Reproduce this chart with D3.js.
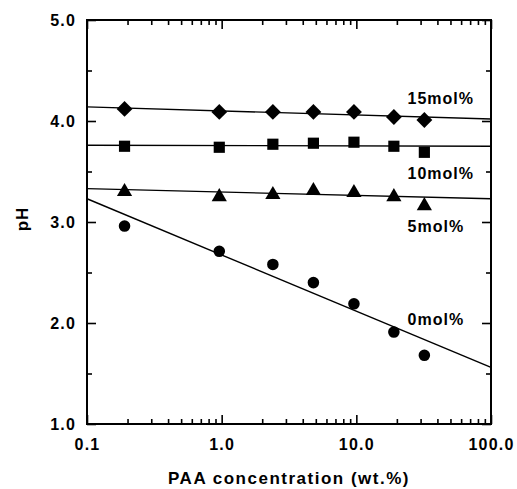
<!DOCTYPE html>
<html>
<head>
<meta charset="utf-8">
<script src="https://cdn.jsdelivr.net/npm/d3@7"></script>
<style>
  body { margin: 0; background: #fff; }
  text { font-family: "Liberation Sans", Arial, sans-serif; font-weight: bold; }
</style>
</head>
<body>
<script>
// data
var conc = [0.19, 0.96, 2.4, 4.8, 9.6, 19, 32]; // PAA wt.%
var ph15 = [4.12, 4.09, 4.09, 4.09, 4.09, 4.04, 4.01];
var ph10 = [3.75, 3.74, 3.77, 3.78, 3.79, 3.75, 3.69];
var ph5  = [3.31, 3.26, 3.28, 3.32, 3.30, 3.26, 3.17];
var ph0  = [2.96, 2.71, 2.58, 2.40, 2.19, 1.91, 1.68];

// fitted lines: pH at x = 0.1 and x = 100
var fitEnds = [0.1, 100];
var fit15 = [4.14, 4.02];
var fit10 = [3.76, 3.75];
var fit5  = [3.33, 3.23];
var fit0  = [3.23, 1.56];

var seriesNames = ["15mol%", "10mol%", "5mol%", "0mol%"];
var labelX = 24;
var labelY = [4.22, 3.48, 2.96, 2.04];

var xMajor = [0.1, 1, 10, 100];
var yMajor = [1, 2, 3, 4, 5];

// margins
var margin = {left: 87, right: 26, top: 20, bottom: 65},
    width = 517 - margin.left - margin.right,
    height = 489 - margin.top - margin.bottom;

var svg = d3.select("body").append("svg")
    .attr("width", 517)
    .attr("height", 489);

var g = svg.append("g")
    .attr("transform", "translate(" + margin.left + "," + margin.top + ")");

var x = d3.scaleLog().domain([0.1, 100]).range([0, width]);
var y = d3.scaleLinear().domain([1, 5]).range([height, 0]);

// minor ticks for the log axis (2..9 in each decade)
var xMinor = [];
xMajor.slice(0, -1).forEach(function(d) {
    for (var k = 2; k <= 9; k++) xMinor.push(d * k);
});
var yMinor = [1.5, 2.5, 3.5, 4.5];

function styleAxis(sel) {
    sel.select(".domain").remove();
    sel.selectAll("line").attr("stroke", "#000").attr("stroke-width", 1.6);
    sel.selectAll("text").attr("fill", "#000")
        .style("font-size", "16px")
        .style("letter-spacing", "1.2px");
}

// bottom
g.append("g").attr("transform", "translate(0," + height + ")")
    .call(d3.axisBottom(x).tickValues(xMajor).tickSize(-9).tickPadding(15).tickFormat(d3.format(".1f")))
    .call(styleAxis);
g.append("g").attr("transform", "translate(0," + height + ")")
    .call(d3.axisBottom(x).tickValues(xMinor).tickSize(-5).tickFormat(""))
    .call(styleAxis);
// top
g.append("g")
    .call(d3.axisTop(x).tickValues(xMajor).tickSize(-9).tickFormat(""))
    .call(styleAxis);
g.append("g")
    .call(d3.axisTop(x).tickValues(xMinor).tickSize(-5).tickFormat(""))
    .call(styleAxis);
// left
g.append("g")
    .call(d3.axisLeft(y).tickValues(yMajor).tickSize(-9).tickPadding(11).tickFormat(d3.format(".1f")))
    .call(styleAxis);
g.append("g")
    .call(d3.axisLeft(y).tickValues(yMinor).tickSize(-5).tickFormat(""))
    .call(styleAxis);
// right
g.append("g").attr("transform", "translate(" + width + ",0)")
    .call(d3.axisRight(y).tickValues(yMajor).tickSize(-9).tickFormat(""))
    .call(styleAxis);
g.append("g").attr("transform", "translate(" + width + ",0)")
    .call(d3.axisRight(y).tickValues(yMinor).tickSize(-5).tickFormat(""))
    .call(styleAxis);

// frame
g.append("rect")
    .attr("width", width).attr("height", height)
    .attr("fill", "none").attr("stroke", "#000").attr("stroke-width", 2);

// fit lines
var line = d3.line()
    .x(function(d) { return x(d[0]); })
    .y(function(d) { return y(d[1]); });

[fit15, fit10, fit5, fit0].forEach(function(f) {
    g.append("path")
        .datum(fitEnds.map(function(xv, i) { return [xv, f[i]]; }))
        .attr("d", line)
        .attr("fill", "none").attr("stroke", "#000").attr("stroke-width", 1.4);
});

// markers
var symbols = [
    d3.symbol().type(d3.symbolDiamond2).size(160),
    d3.symbol().type(d3.symbolSquare).size(125),
    d3.symbol().type(d3.symbolTriangle).size(100),
    d3.symbol().type(d3.symbolCircle).size(105)
];
[ph15, ph10, ph5, ph0].forEach(function(s, si) {
    g.selectAll(null)
        .data(s)
        .enter()
        .append("path")
        .attr("d", symbols[si])
        .attr("transform", function(d, i) {
            var ty = y(d) + (si == 2 ? 1 : 0);
            return "translate(" + x(conc[i]) + "," + ty + ")";
        })
        .attr("fill", "#000");
});

// series labels
g.selectAll(null)
    .data(seriesNames)
    .enter()
    .append("text")
    .attr("x", x(labelX))
    .attr("y", function(d, i) { return y(labelY[i]); })
    .attr("dy", "0.35em")
    .style("font-size", "16px")
    .style("letter-spacing", "1px")
    .text(function(d) { return d; });

// axis titles
svg.append("text")
    .attr("x", margin.left + width / 2)
    .attr("y", 484)
    .attr("text-anchor", "middle")
    .style("font-size", "17px")
    .style("letter-spacing", "1.5px")
    .text("PAA concentration (wt.%)");

svg.append("text")
    .attr("transform", "translate(28,219) rotate(-90)")
    .attr("text-anchor", "middle")
    .style("font-size", "17px")
    .style("letter-spacing", "1px")
    .text("pH");
</script>
</body>
</html>
